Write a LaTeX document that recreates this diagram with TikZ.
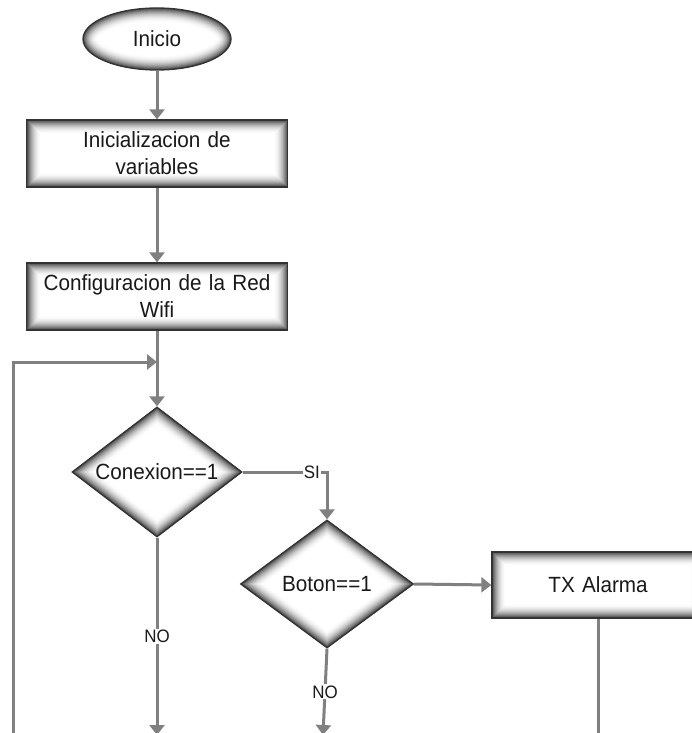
\documentclass[tikz,border=0pt]{standalone}
\usepackage{fontspec}
\setmainfont[FakeStretch=0.94]{Liberation Sans}
\usetikzlibrary{shapes.geometric,arrows.meta,calc}
\tikzset{
  glowrect/.style={rectangle, draw=black!80, line width=1.3pt, fill=white,
    text width=250pt, align=center, minimum width=261pt, minimum height=67pt, inner sep=0pt,
    font=\fontsize{22}{27}\selectfont, text=black!90,
    path picture={
      \foreach \i in {14,...,1}{
        \pgfmathsetmacro\cc{(15-\i)*(15-\i)*0.36}
        \draw[line width=2*\i pt, black!\cc]
          (path picture bounding box.south west) rectangle (path picture bounding box.north east);
      }}},
  glowdiam/.style={diamond, draw=black!80, line width=1.3pt, fill=white, inner sep=0pt,
    font=\fontsize{22}{27}\selectfont, text=black!90,
    path picture={
      \foreach \i in {14,...,1}{
        \pgfmathsetmacro\cc{(15-\i)*(15-\i)*0.36}
        \draw[line width=2*\i pt, black!\cc]
          (path picture bounding box.north) -- (path picture bounding box.east)
          -- (path picture bounding box.south) -- (path picture bounding box.west) -- cycle;
      }}},
  glowell/.style={ellipse, draw=black!80, line width=1.3pt, fill=white, inner sep=0pt,
    font=\fontsize{22}{27}\selectfont, text=black!90,
    path picture={
      \foreach \i in {14,...,1}{
        \pgfmathsetmacro\cc{(15-\i)*(15-\i)*0.36}
        \draw[line width=2*\i pt, black!\cc]
          let \p1=(path picture bounding box.north east), \p2=(path picture bounding box.center)
          in (\p2) ellipse [x radius=\x1-\x2, y radius=\y1-\y2];
      }}},
  conn/.style={draw=black!50, line width=3pt},
  arr/.style={conn, -{Triangle[width=15pt,length=10pt]}},
  lbl/.style={fill=white, inner sep=1pt, font=\fontsize{18}{18}\selectfont, text=black!90}
}
\begin{document}
\begin{tikzpicture}[x=1pt,y=-1pt]
\useasboundingbox (0,0) rectangle (692,733);
\fill[white] (0,0) rectangle (692,733);

\node[glowell, minimum width=148pt, minimum height=62pt] (inicio) at (157,39) {Inicio};
\node[glowrect] (init) at (157,153.5) {Inicializacion de\\variables};
\node[glowrect] (wifi) at (157,296.5) {Configuracion de la Red\\Wifi};
\node[glowdiam, aspect=1.31, minimum width=170pt, minimum height=130pt] (con) at (157,472) {Conexion==1};
\node[glowdiam, aspect=1.35, minimum width=173pt, minimum height=128pt] (boton) at (327,584) {Boton==1};
\node[glowrect, minimum width=212pt, text width=200pt, minimum height=66pt] (tx) at (598,585) {TX Alarma};

\coordinate (join) at (157,362);
\coordinate (loopL) at (13,734.5);
\coordinate (b1) at (157,735);
\coordinate (b2) at (323,735);
\coordinate (txb) at (598,734.5);

\draw[arr] (inicio.south) -- (init.north);
\draw[arr] (init.south) -- (wifi.north);
\draw[arr] (wifi.south) -- (con.north);
\draw[conn] (tx.south) -- (txb) -- (loopL);
\draw[arr] (loopL) |- (join);
\draw[arr] (con.east) -| node[lbl, pos=0.41] {SI} (boton.north);
\draw[arr] (con.south) -- node[lbl] {NO} (b1);
\draw[arr] (boton.east) -- (tx.west);
\draw[arr] (boton.south) -- node[lbl] {NO} (b2);
\end{tikzpicture}
\end{document}
